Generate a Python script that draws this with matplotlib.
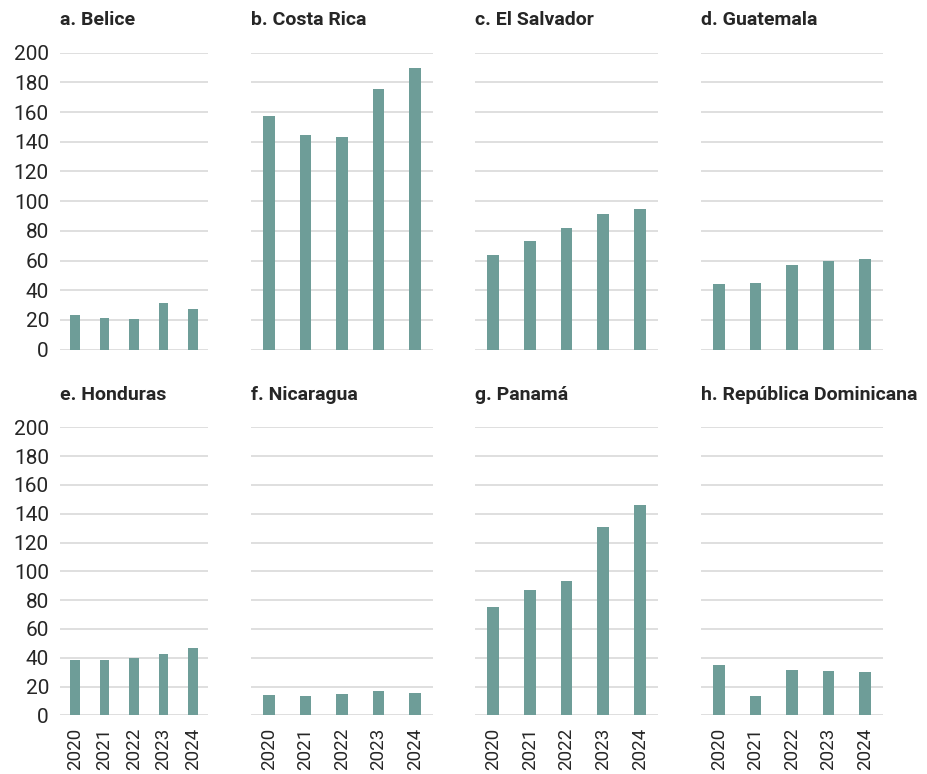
import numpy as np
import matplotlib
matplotlib.use("Agg")
import matplotlib.pyplot as plt

plt.rcParams['font.family'] = ['Roboto', 'DejaVu Sans']

years = ['2020', '2021', '2022', '2023', '2024']

titles = ['a. Belice', 'b. Costa Rica', 'c. El Salvador', 'd. Guatemala',
          'e. Honduras', 'f. Nicaragua', 'g. Panamá', 'h. República Dominicana']

belice = [23.4, 21.1, 20.7, 31.4, 27.2]
costa_rica = [157.2, 144.6, 143.0, 175.6, 189.5]
el_salvador = [64.0, 73.2, 82.0, 91.6, 94.5]
guatemala = [44.0, 44.7, 57.0, 59.9, 61.1]
honduras = [38.2, 38.6, 40.0, 42.8, 47.0]
nicaragua = [14.3, 13.6, 15.0, 16.9, 15.5]
panama = [75.4, 86.8, 93.5, 130.5, 146.2]
rep_dominicana = [35.1, 13.6, 31.5, 31.0, 29.9]

series = [belice, costa_rica, el_salvador, guatemala,
          honduras, nicaragua, panama, rep_dominicana]

W, H = 928, 774
fig = plt.figure(figsize=(W / 100, H / 100), dpi=100)

# axes boxes in pixels: left, right
cols = [(60, 208), (251, 433), (475, 658), (701, 883)]
rows = [(52.7, 349.7), (427.3, 715.3)]

bar_color = '#6e9d98'
grid_color = '#d9d9d9'
text_color = '#262626'

for i, (title, vals) in enumerate(zip(titles, series)):
    r, c = divmod(i, 4)
    x0, x1 = cols[c]
    y0, y1 = rows[r]
    ax = fig.add_axes([x0 / W, 1 - y1 / H, (x1 - x0) / W, (y1 - y0) / H])
    x = np.arange(len(years))
    ax.bar(x, vals, width=0.32, color=bar_color, zorder=3)
    ax.set_xlim(-0.5, 4.5)
    ax.set_ylim(0, 200)
    ax.set_yticks(np.arange(0, 201, 20))
    ax.grid(axis='y', color=grid_color, linewidth=1.2, zorder=0)
    ax.set_axisbelow(True)
    for s in ax.spines.values():
        s.set_visible(False)
    ax.tick_params(length=0, labelsize=15, colors=text_color, pad=8)
    ax.set_xticks(x)
    if r == 1:
        ax.set_xticklabels(years, rotation=90)
        ax.tick_params(axis='x', pad=9, labelsize=13.5)
    else:
        ax.set_xticklabels([])
    if c != 0:
        ax.set_yticklabels([])
    ax.set_title(title, loc='left', fontsize=14, fontweight='bold',
                 color=text_color, pad=20)

fig.savefig('out.png', dpi=100)
